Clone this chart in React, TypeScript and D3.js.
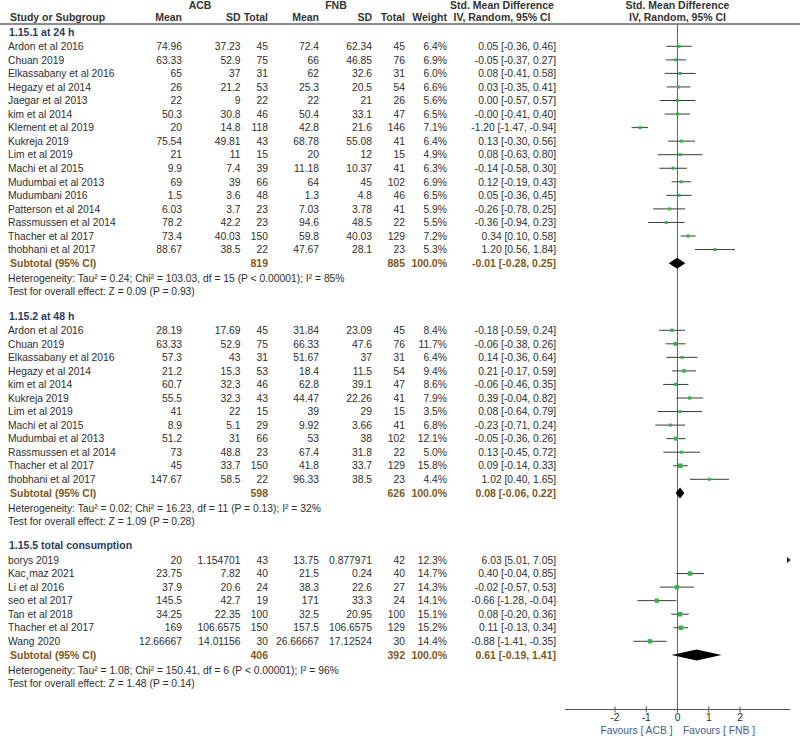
import React from "react";
import * as d3 from "d3";

// ---------- DATA ----------
const groupTitles = ["1.15.1 at 24 h", "1.15.2 at 48 h", "1.15.5 total consumption"];

const g1Studies = ["Ardon et al 2016", "Chuan 2019", "Elkassabany et al 2016", "Hegazy et al 2014", "Jaegar et al 2013", "kim et al 2014", "Klement et al 2019", "Kukreja 2019", "Lim et al 2019", "Machi et al 2015", "Mudumbai et al 2013", "Mudumbani 2016", "Patterson et al 2014", "Rassmussen et al 2014", "Thacher et al 2017", "thobhani et al 2017"];
const g1AcbMean = [74.96, 63.33, 65, 26, 22, 50.3, 20, 75.54, 21, 9.9, 69, 1.5, 6.03, 78.2, 73.4, 88.67];
const g1AcbSd = [37.23, 52.9, 37, 21.2, 9, 30.8, 14.8, 49.81, 11, 7.4, 39, 3.6, 3.7, 42.2, 40.03, 38.5];
const g1AcbN = [45, 75, 31, 53, 22, 46, 118, 43, 15, 39, 66, 48, 23, 23, 150, 22];
const g1FnbMean = [72.4, 66, 62, 25.3, 22, 50.4, 42.8, 68.78, 20, 11.18, 64, 1.3, 7.03, 94.6, 59.8, 47.67];
const g1FnbSd = [62.34, 46.85, 32.6, 20.5, 21, 33.1, 21.6, 55.08, 12, 10.37, 45, 4.8, 3.78, 48.5, 40.03, 28.1];
const g1FnbN = [45, 76, 31, 54, 26, 47, 146, 41, 15, 41, 102, 46, 41, 22, 129, 23];
const g1Weight = [6.4, 6.9, 6.0, 6.6, 5.6, 6.5, 7.1, 6.4, 4.9, 6.3, 6.9, 6.5, 5.9, 5.5, 7.2, 5.3];
const g1Smd = [0.05, -0.05, 0.08, 0.03, 0.0, -0.003, -1.2, 0.13, 0.08, -0.14, 0.12, 0.05, -0.26, -0.36, 0.34, 1.2];
const g1Lo = [-0.36, -0.37, -0.41, -0.35, -0.57, -0.41, -1.47, -0.3, -0.63, -0.58, -0.19, -0.36, -0.78, -0.94, 0.1, 0.56];
const g1Hi = [0.46, 0.27, 0.58, 0.41, 0.57, 0.4, -0.94, 0.56, 0.8, 0.3, 0.43, 0.45, 0.25, 0.23, 0.58, 1.84];

const g2Studies = ["Ardon et al 2016", "Chuan 2019", "Elkassabany et al 2016", "Hegazy et al 2014", "kim et al 2014", "Kukreja 2019", "Lim et al 2019", "Machi et al 2015", "Mudumbai et al 2013", "Rassmussen et al 2014", "Thacher et al 2017", "thobhani et al 2017"];
const g2AcbMean = [28.19, 63.33, 57.3, 21.2, 60.7, 55.5, 41, 8.9, 51.2, 73, 45, 147.67];
const g2AcbSd = [17.69, 52.9, 43, 15.3, 32.3, 32.3, 22, 5.1, 31, 48.8, 33.7, 58.5];
const g2AcbN = [45, 75, 31, 53, 46, 43, 15, 29, 66, 23, 150, 22];
const g2FnbMean = [31.84, 66.33, 51.67, 18.4, 62.8, 44.47, 39, 9.92, 53, 67.4, 41.8, 96.33];
const g2FnbSd = [23.09, 47.6, 37, 11.5, 39.1, 22.26, 29, 3.66, 38, 31.8, 33.7, 38.5];
const g2FnbN = [45, 76, 31, 54, 47, 41, 15, 41, 102, 22, 129, 23];
const g2Weight = [8.4, 11.7, 6.4, 9.4, 8.6, 7.9, 3.5, 6.8, 12.1, 5.0, 15.8, 4.4];
const g2Smd = [-0.18, -0.06, 0.14, 0.21, -0.06, 0.39, 0.08, -0.23, -0.05, 0.13, 0.09, 1.02];
const g2Lo = [-0.59, -0.38, -0.36, -0.17, -0.46, -0.04, -0.64, -0.71, -0.36, -0.45, -0.14, 0.4];
const g2Hi = [0.24, 0.26, 0.64, 0.59, 0.35, 0.82, 0.79, 0.24, 0.26, 0.72, 0.33, 1.65];

const g3Studies = ["borys 2019", "Kac\u00B8maz 2021", "Li et al 2016", "seo et al 2017", "Tan et al 2018", "Thacher et al 2017", "Wang 2020"];
const g3AcbMean = [20, 23.75, 37.9, 145.5, 34.25, 169, 12.66667];
const g3AcbSd = [1.154701, 7.82, 20.6, 42.7, 22.35, 106.6575, 14.01156];
const g3AcbN = [43, 40, 24, 19, 100, 150, 30];
const g3FnbMean = [13.75, 21.5, 38.3, 171, 32.5, 157.5, 26.66667];
const g3FnbSd = [0.877971, 0.24, 22.6, 33.3, 20.95, 106.6575, 17.12524];
const g3FnbN = [42, 40, 27, 24, 100, 129, 30];
const g3Weight = [12.3, 14.7, 14.3, 14.1, 15.1, 15.2, 14.4];
const g3Smd = [6.03, 0.4, -0.02, -0.66, 0.08, 0.11, -0.88];
const g3Lo = [5.01, -0.04, -0.57, -1.28, -0.2, -0.13, -1.41];
const g3Hi = [7.05, 0.85, 0.53, -0.04, 0.36, 0.34, -0.35];

const subAcbN = [819, 598, 406];
const subFnbN = [885, 626, 392];
const subSmd = [-0.01, 0.08, 0.61];
const subLo = [-0.28, -0.06, -0.19];
const subHi = [0.25, 0.22, 1.41];
const heterogeneity = [
  "Heterogeneity: Tau\u00B2 = 0.24; Chi\u00B2 = 103.03, df = 15 (P < 0.00001); I\u00B2 = 85%",
  "Heterogeneity: Tau\u00B2 = 0.02; Chi\u00B2 = 16.23, df = 11 (P = 0.13); I\u00B2 = 32%",
  "Heterogeneity: Tau\u00B2 = 1.08; Chi\u00B2 = 150.41, df = 6 (P < 0.00001); I\u00B2 = 96%",
];
const overallEffect = [
  "Test for overall effect: Z = 0.09 (P = 0.93)",
  "Test for overall effect: Z = 1.09 (P = 0.28)",
  "Test for overall effect: Z = 1.48 (P = 0.14)",
];
const axisTicks = [-2, -1, 0, 1, 2];
const favoursLeft = "Favours [ ACB ]";
const favoursRight = "Favours [ FNB ]";

// ---------- BUILD ----------
const groups = [
  { studies: g1Studies, am: g1AcbMean, as: g1AcbSd, an: g1AcbN, fm: g1FnbMean, fs: g1FnbSd, fn: g1FnbN, w: g1Weight, e: g1Smd, lo: g1Lo, hi: g1Hi },
  { studies: g2Studies, am: g2AcbMean, as: g2AcbSd, an: g2AcbN, fm: g2FnbMean, fs: g2FnbSd, fn: g2FnbN, w: g2Weight, e: g2Smd, lo: g2Lo, hi: g2Hi },
  { studies: g3Studies, am: g3AcbMean, as: g3AcbSd, an: g3AcbN, fm: g3FnbMean, fs: g3FnbSd, fn: g3FnbN, w: g3Weight, e: g3Smd, lo: g3Lo, hi: g3Hi },
];

const FONT = "'Liberation Sans', Arial, sans-serif";
const FS = 10.3;
const FSB = 10.5;
const TXT = "#2e2e2e";
const NAVY = "#2b3b60";
const BROWN = "#80591a";
const FAV = "#3f5c94";
const GREEN = "#33b34a";

const x = d3.scaleLinear().domain([-3.6, 3.6]).range([565, 790]);
const AXIS_Y = 709.5;

const col = { am: 182, as: 240.5, an: 268, fm: 319, fs: 372, fn: 405, w: 447, ci: 556 };

const fmtCI = (e: number, lo: number, hi: number) => `${e.toFixed(2)} [${lo.toFixed(2)}, ${hi.toFixed(2)}]`;

export default function App() {
  const els: React.ReactNode[] = [];
  let y = 32;
  let key = 0;
  const T = (props: any, text: string) => {
    const bold = props.fontWeight === "bold";
    els.push(
      <text key={key++} fontFamily={FONT} fontSize={bold ? FSB : FS} fill={TXT} {...props} y={props.y + 3.7}>
        {text}
      </text>
    );
  };

  groups.forEach((g, gi) => {
    T({ x: 9, y, fontWeight: "bold", fill: NAVY }, groupTitles[gi]);
    let ry = y + 14.3;
    g.studies.forEach((s, i) => {
      T({ x: 8, y: ry }, s);
      T({ x: col.am, y: ry, textAnchor: "end" }, String(g.am[i]));
      T({ x: col.as, y: ry, textAnchor: "end" }, String(g.as[i]));
      T({ x: col.an, y: ry, textAnchor: "end" }, String(g.an[i]));
      T({ x: col.fm, y: ry, textAnchor: "end" }, String(g.fm[i]));
      T({ x: col.fs, y: ry, textAnchor: "end" }, String(g.fs[i]));
      T({ x: col.fn, y: ry, textAnchor: "end" }, String(g.fn[i]));
      T({ x: col.w, y: ry, textAnchor: "end" }, g.w[i].toFixed(1) + "%");
      T({ x: col.ci, y: ry, textAnchor: "end" }, fmtCI(g.e[i], g.lo[i], g.hi[i]));

      // forest marks
      const [d0, d1] = x.domain();
      const lo = Math.max(g.lo[i], d0);
      const hi = Math.min(g.hi[i], d1);
      if (lo < hi) {
        els.push(<line key={key++} x1={x(lo)} x2={x(hi)} y1={ry} y2={ry} stroke="#3a3a3a" strokeWidth={1} />);
      }
      if (g.e[i] >= d0 && g.e[i] <= d1) {
        const sz = Math.max(3, 1.15 * Math.sqrt(g.w[i]));
        els.push(<rect key={key++} x={x(g.e[i]) - sz / 2} y={ry - sz / 2} width={sz} height={sz} fill={GREEN} />);
      }
      if (g.hi[i] > d1) {
        const ax = x(d1);
        els.push(<path key={key++} d={`M${ax - 3},${ry - 3}L${ax + 0.5},${ry}L${ax - 3},${ry + 3}Z`} fill="#111" />);
      }
      if (g.lo[i] < d0) {
        const ax = x(d0);
        els.push(<path key={key++} d={`M${ax + 3},${ry - 3}L${ax - 0.5},${ry}L${ax + 3},${ry + 3}Z`} fill="#111" />);
      }
      ry += 13.55;
    });
    const sy = ry - 13.55 + 13.6;
    const sb = { fontWeight: "bold", fill: BROWN };
    T({ x: 10, y: sy, ...sb }, "Subtotal (95% CI)");
    T({ x: col.an, y: sy, textAnchor: "end", ...sb }, String(subAcbN[gi]));
    T({ x: col.fn, y: sy, textAnchor: "end", ...sb }, String(subFnbN[gi]));
    T({ x: col.w, y: sy, textAnchor: "end", ...sb }, "100.0%");
    T({ x: col.ci, y: sy, textAnchor: "end", ...sb }, fmtCI(subSmd[gi], subLo[gi], subHi[gi]));
    const dl = x(subLo[gi]), dr = x(subHi[gi]), dc = x(subSmd[gi]);
    els.push(<path key={key++} d={`M${dl},${sy}L${dc},${sy - 5.5}L${dr},${sy}L${dc},${sy + 5.5}Z`} fill="#000" />);
    const hy = sy + 15.3;
    T({ x: 8, y: hy }, heterogeneity[gi]);
    const ty = hy + 13;
    T({ x: 8, y: ty }, overallEffect[gi]);
    y = ty + 24.5;
  });

  return (
    <svg width={800} height={736} style={{ position: "absolute", left: 0, top: 0, background: "#fff" }}>
      <rect x={0} y={0} width={800} height={736} fill="#fff" />
      {/* headers */}
      <g fontFamily={FONT} fontSize={FSB} fontWeight="bold" fill="#333">
        <text x={200} y={8.5} textAnchor="middle">ACB</text>
        <text x={336} y={8.5} textAnchor="middle">FNB</text>
        <text x={502} y={8.5} textAnchor="middle">Std. Mean Difference</text>
        <text x={677.5} y={8.5} textAnchor="middle">Std. Mean Difference</text>
        <text x={10} y={21}>Study or Subgroup</text>
        <text x={col.am} y={21} textAnchor="end">Mean</text>
        <text x={col.as} y={21} textAnchor="end">SD</text>
        <text x={col.an} y={21} textAnchor="end">Total</text>
        <text x={col.fm} y={21} textAnchor="end">Mean</text>
        <text x={col.fs} y={21} textAnchor="end">SD</text>
        <text x={col.fn} y={21} textAnchor="end">Total</text>
        <text x={col.w} y={21} textAnchor="end">Weight</text>
        <text x={502} y={21} textAnchor="middle">IV, Random, 95% CI</text>
        <text x={677.5} y={21} textAnchor="middle">IV, Random, 95% CI</text>
      </g>
      <line x1={0} x2={800} y1={24} y2={24} stroke="#666" strokeWidth={1.5} />
      {/* zero line */}
      <line x1={x(0)} x2={x(0)} y1={24} y2={AXIS_Y} stroke="#666" strokeWidth={1} />
      {els}
      {/* axis */}
      <line x1={x.range()[0]} x2={x.range()[1]} y1={AXIS_Y} y2={AXIS_Y} stroke="#555" strokeWidth={1} />
      {axisTicks.map((t) => (
        <g key={t}>
          <line x1={x(t)} x2={x(t)} y1={AXIS_Y - 3} y2={AXIS_Y + 3} stroke="#555" strokeWidth={1} />
          <text x={x(t)} y={AXIS_Y + 11.5} textAnchor="middle" fontFamily={FONT} fontSize={FS} fill={TXT}>
            {String(t)}
          </text>
        </g>
      ))}
      <text x={672.5} y={734} textAnchor="end" fontFamily={FONT} fontSize={FS} fill={FAV}>{favoursLeft}</text>
      <text x={683} y={734} textAnchor="start" fontFamily={FONT} fontSize={FS} fill={FAV}>{favoursRight}</text>
    </svg>
  );
}
